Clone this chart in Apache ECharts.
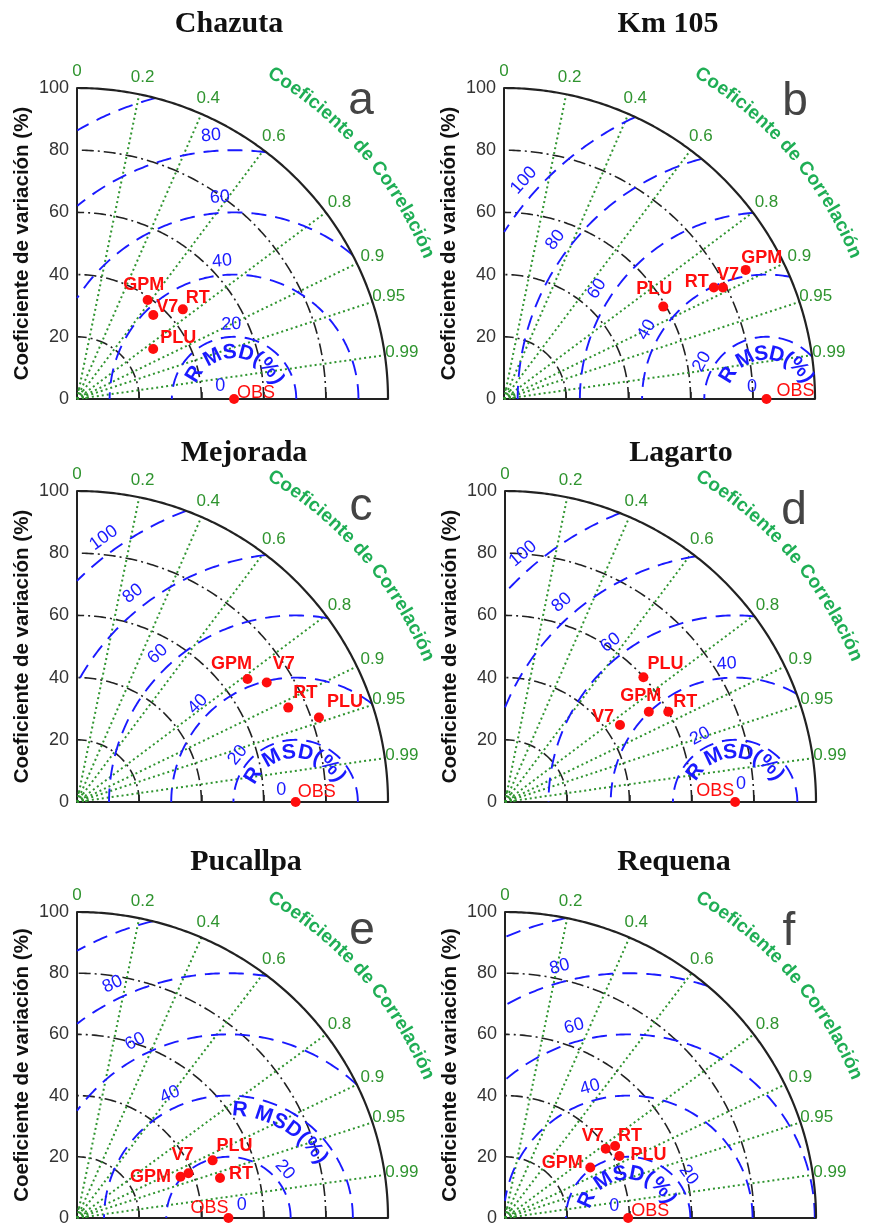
<!DOCTYPE html>
<html><head><meta charset="utf-8">
<script src="https://cdn.jsdelivr.net/npm/echarts@6/dist/echarts.min.js"></script>
<style>html,body{margin:0;padding:0;background:#fff}#c{width:869px;height:1227px}</style>
</head><body><div id="c"></div>
<script>
// ---------------- DATA ----------------
const stationNames = ['Chazuta', 'Km 105', 'Mejorada', 'Lagarto', 'Pucallpa', 'Requena'];
const panelLetters = ['a', 'b', 'c', 'd', 'e', 'f'];
const modelNames = ['GPM', 'V7', 'RT', 'PLU'];
const obsStd  = [50.5, 84.4, 70.3, 74.0, 48.7, 39.6];
const gpmStd  = [39.1, 88.1, 67.6, 54.6, 35.9, 32.0];
const gpmCorr = [0.581, 0.882, 0.811, 0.847, 0.927, 0.857];
const v7Std   = [36.5, 79.0, 72.1, 44.5, 38.7, 39.5];
const v7Corr  = [0.672, 0.891, 0.846, 0.831, 0.926, 0.820];
const rtStd   = [44.6, 76.4, 74.4, 60.0, 47.8, 42.5];
const rtCorr  = [0.763, 0.883, 0.913, 0.875, 0.962, 0.833];
const pluStd  = [29.3, 59.2, 82.4, 59.9, 47.5, 42.0];
const pluCorr = [0.836, 0.865, 0.944, 0.743, 0.918, 0.876];
const stdArcs = [20, 40, 60, 80];
const corrTicks = [0, 0.2, 0.4, 0.6, 0.8, 0.9, 0.95, 0.99];
const rmsdTicks = [0, 20, 40, 60, 80, 100];
const yAxisTitle = 'Coeficiente de variación (%)';
const corrTitle = 'Coeficiente de Correlación';
const rmsdTitle = 'R MSD(%)';

// ---------------- LAYOUT ----------------
const FONT = 'Liberation Sans, Arial, sans-serif';
const gridBoxes = [[77, 88], [504, 88], [77, 491], [505, 491], [77, 912], [505, 912]];
const GSIZE = 311;
const titlePos = [[229, 24], [668, 24], [244, 453], [681, 453], [246, 862], [674, 862]];
const letterPos = [[361, 101], [795, 102], [361, 507], [794, 511], [362, 931], [789, 932]];
const labelOffsets = {
  GPM: [[-4, -15], [16, -12], [-16, -15], [-8, -16], [-30, 0], [-28, -5]],
  V7:  [[14, -8], [5, -12], [17, -18], [-17, -8], [-6, -18], [-13, -13]],
  RT:  [[15, -11], [-17, -5], [17, -15], [17, -10], [21, -4], [15, -10]],
  PLU: [[25, -11], [-9, -18], [26, -15], [22, -13], [22, -14], [29, -1]],
  OBS: [[22, -6], [29, -8], [21, -10], [-20, -11], [-19, -10], [22, -7]]
};
const rmsdLabelAngles = [
  [138, 92, 95, 94, 95, null],
  [141, 150, 150, 147, 143, 138],
  [140, 141, 135, 133, 128, 126],
  [72, 118, 93.5, 128, 131, 130.5],
  [44, 41, 115, 117.5, 116, null],
  [138, 36, 106, 105.5, 105, null]
];
const rmsdLabelRadius = [6, 24, 44.5, 65, 85, 105];
const rmsdTitleArc = [[15, 148, 24], [14.5, 148, 27], [16, 148, 30], [16, 143, 32], [35.5, 84, 33], [14.5, 156, 25]];

const C_BLACK = '#222', C_BLUE = '#1a1aff', C_GREEN = '#2f942f', C_GREEN2 = '#1fae55', C_RED = '#ff0d0d';

// ---------------- HELPERS ----------------
const D2R = Math.PI / 180;
function arcPts(r, a0, a1) {
  const pts = [];
  const n = Math.max(20, Math.round(Math.abs(a1 - a0) * 4));
  for (let i = 0; i <= n; i++) { const a = (a0 + (a1 - a0) * i / n) * D2R; pts.push([r * Math.cos(a), r * Math.sin(a)]); }
  return pts;
}
function inside(x, y) { return x >= -1e-9 && x * x + y * y <= 10000 + 1e-6; }
function rmsdCircle(c, r) {
  const f = t => [c + r * Math.cos(t * D2R), r * Math.sin(t * D2R)];
  const pts = []; let prevIn = null, prevT = 0;
  for (let t = 0; t <= 180.0001; t += 0.25) {
    const p = f(t); const isIn = inside(p[0], p[1]);
    if (prevIn !== null && isIn !== prevIn) {
      let lo = prevT, hi = t;
      for (let k = 0; k < 30; k++) { const m = (lo + hi) / 2; const pm = f(m); if (inside(pm[0], pm[1]) === prevIn) lo = m; else hi = m; }
      pts.push(f(prevIn ? lo : hi));
    }
    if (isIn) pts.push(p);
    prevIn = isIn; prevT = t;
  }
  return pts;
}
const mctx = document.createElement('canvas').getContext('2d');
function arcText(cx, radius, a0, a1, text, font) {
  mctx.font = font;
  const chars = Array.from(text);
  const w = chars.map(ch => mctx.measureText(ch).width);
  let cum = 0; const centers = w.map(wi => { const c = cum + wi / 2; cum += wi; return c; });
  const p0 = centers[0], p1 = centers[centers.length - 1];
  const out = [];
  chars.forEach((ch, i) => {
    if (!ch.trim()) return;
    const a = a0 + (a1 - a0) * (centers[i] - p0) / (p1 - p0);
    out.push({ x: cx + radius * Math.cos(a * D2R), y: radius * Math.sin(a * D2R), text: ch, rotate: a - 90 });
  });
  return out;
}
function lineSeries(gi, data, color, width, type, z) {
  return { type: 'line', xAxisIndex: gi, yAxisIndex: gi, data, symbol: 'none', silent: true, animation: false, clip: false,
    lineStyle: { color, width, type, cap: 'butt', opacity: 1 }, z };
}
function textSeries(gi, items, style, z) {
  return { type: 'scatter', xAxisIndex: gi, yAxisIndex: gi, symbolSize: 1, itemStyle: { color: 'rgba(0,0,0,0)', opacity: 1 }, silent: true,
    animation: false, clip: false, z,
    data: items.map(it => ({ value: [it.x, it.y], label: Object.assign({ show: true, position: 'inside', formatter: it.text,
      rotate: it.rotate || 0, offset: it.offset || [0, 0], fontFamily: FONT }, style) })) };
}

// ---------------- BUILD ----------------
const grids = [], xAxes = [], yAxes = [], series = [], graphics = [];
const modelStd = [gpmStd, v7Std, rtStd, pluStd];
const modelCorr = [gpmCorr, v7Corr, rtCorr, pluCorr];

stationNames.forEach((name, gi) => {
  const [gl, gt] = gridBoxes[gi];
  grids.push({ left: gl, top: gt, width: GSIZE, height: GSIZE });
  xAxes.push({ gridIndex: gi, type: 'value', min: 0, max: 100, interval: 20,
    axisLine: { show: true, onZero: false, lineStyle: { color: C_BLACK, width: 2 } },
    axisTick: { show: true, inside: true, length: 7, lineStyle: { color: C_BLACK, width: 1.5 } },
    axisLabel: { show: false }, splitLine: { show: false } });
  yAxes.push({ gridIndex: gi, type: 'value', min: 0, max: 100, interval: 20,
    axisLine: { show: true, onZero: false, lineStyle: { color: C_BLACK, width: 2 } },
    axisTick: { show: false }, splitLine: { show: false },
    axisLabel: { color: '#333', fontSize: 18, fontFamily: FONT, margin: 8 },
    name: yAxisTitle, nameLocation: 'middle', nameGap: 44,
    nameTextStyle: { fontSize: 20.5, fontWeight: 'bold', color: '#111', fontFamily: FONT } });

  const obs = obsStd[gi];
  stdArcs.forEach(r => series.push(lineSeries(gi, arcPts(r, 0, 90), C_BLACK, 1.6, [12, 4, 2, 4], 2)));
  corrTicks.forEach(c => {
    if (c === 0) return;
    const a = Math.acos(c);
    series.push(lineSeries(gi, [[0, 0], [100 * Math.cos(a), 100 * Math.sin(a)]], C_GREEN, 2, [2, 3], 3));
  });
  series.push(lineSeries(gi, arcPts(3, 0, 90), C_GREEN, 2, [2, 2], 3));
  rmsdTicks.forEach(r => {
    if (r === 0) return;
    const pts = rmsdCircle(obs, r);
    if (pts.length > 1) series.push(lineSeries(gi, pts, C_BLUE, 1.9, [15, 9], 4));
  });
  series.push(lineSeries(gi, arcPts(100, 0, 90), C_BLACK, 2.2, 'solid', 5));

  series.push(textSeries(gi, corrTicks.map(c => {
    const a = Math.acos(c); return { x: 105.5 * Math.cos(a), y: 105.5 * Math.sin(a), text: String(c) };
  }), { color: C_GREEN, fontSize: 17 }, 6));
  series.push(textSeries(gi, arcText(0, 122, 58.5, 22.8, corrTitle, 'bold 19px Liberation Sans'),
    { color: C_GREEN2, fontSize: 19, fontWeight: 'bold' }, 6));
  const rl = [];
  rmsdTicks.forEach((r, k) => {
    const ang = rmsdLabelAngles[gi][k];
    if (ang === null) return;
    const rr = rmsdLabelRadius[k];
    rl.push({ x: obs + rr * Math.cos(ang * D2R), y: rr * Math.sin(ang * D2R), text: String(r), rotate: k === 0 ? 0 : ang - 90 });
  });
  series.push(textSeries(gi, rl, { color: C_BLUE, fontSize: 18 }, 6));
  const [tr, ta0, ta1] = rmsdTitleArc[gi];
  series.push(textSeries(gi, arcText(obs, tr, ta0, ta1, rmsdTitle, 'bold 21px Liberation Sans'),
    { color: C_BLUE, fontSize: 21, fontWeight: 'bold' }, 6));

  modelNames.forEach((m, mi) => {
    const s = modelStd[mi][gi], c = modelCorr[mi][gi], a = Math.acos(c);
    series.push({ type: 'scatter', xAxisIndex: gi, yAxisIndex: gi, symbol: 'circle', symbolSize: 10, animation: false, clip: false, z: 8,
      itemStyle: { color: C_RED, opacity: 1 },
      label: { show: true, position: 'inside', formatter: m, offset: labelOffsets[m][gi], color: C_RED, fontSize: 18, fontWeight: 'bold', fontFamily: FONT },
      data: [[s * Math.cos(a), s * Math.sin(a)]] });
  });
  series.push({ type: 'scatter', xAxisIndex: gi, yAxisIndex: gi, symbol: 'circle', symbolSize: 10, animation: false, clip: false, z: 8,
    itemStyle: { color: C_RED, opacity: 1 },
    label: { show: true, position: 'inside', formatter: 'OBS', offset: labelOffsets.OBS[gi], color: C_RED, fontSize: 18, fontFamily: FONT },
    data: [[obs, 0]] });

  graphics.push({ type: 'text', x: titlePos[gi][0], y: titlePos[gi][1], silent: true,
    style: { text: name, font: 'bold 30px "Liberation Serif", "Times New Roman", serif', fill: '#111', textAlign: 'center', textVerticalAlign: 'middle' } });
  graphics.push({ type: 'text', x: letterPos[gi][0], y: letterPos[gi][1], silent: true,
    style: { text: panelLetters[gi], font: '46px "Liberation Sans", Arial, sans-serif', fill: '#444', textAlign: 'center', textVerticalAlign: 'middle' } });
});

const chart = echarts.init(document.getElementById('c'), null, { renderer: 'canvas' });
chart.setOption({ backgroundColor: '#fff', animation: false, grid: grids, xAxis: xAxes, yAxis: yAxes, series, graphic: graphics });
</script>
</body></html>
